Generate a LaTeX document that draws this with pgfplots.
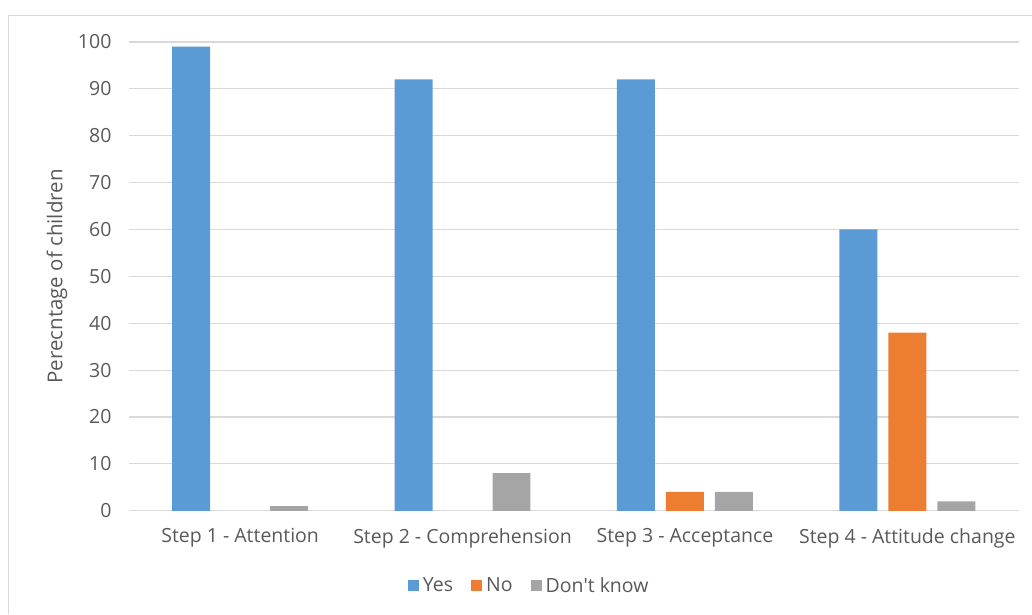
\documentclass[border=0pt]{standalone}
\usepackage{fontspec}
\setmainfont{Open Sans}
\usepackage{pgfplots}
\pgfplotsset{compat=1.18}
\definecolor{cyes}{HTML}{5B9BD5}
\definecolor{cno}{HTML}{ED7D31}
\definecolor{cdk}{HTML}{A5A5A5}
\definecolor{cgrid}{HTML}{D9D9D9}
\definecolor{ctext}{HTML}{595959}
\newcommand{\chartfont}{\fontsize{19.5}{23}\selectfont}
\begin{document}
\begin{tikzpicture}
\begin{axis}[
  scale only axis,
  width=890pt, height=469pt,
  ybar=11pt, bar width=38pt,
  xmin=-0.5, xmax=3.5,
  ymin=0, ymax=100,
  ytick={0,10,...,100},
  xtick={0,1,2,3},
  xticklabels={Step 1 - Attention, Step 2 - Comprehension, Step 3 - Acceptance, Step 4 - Attitude change},
  major tick length=0pt,
  axis line style={draw=none},
  ymajorgrids,
  grid style={cgrid, line width=1.2pt},
  tick label style={font=\chartfont, text=ctext},
  /pgf/number format/assume math mode=true,
  yticklabel style={xshift=-14pt},
  xticklabel style={yshift=-14pt},
  ylabel={Perecntage of children},
  ylabel style={font=\fontsize{20.5}{24}\selectfont, text=ctext, at={(axis description cs:-0.081,0.5)}, anchor=center},
  legend columns=-1,
  legend style={draw=none, font=\chartfont, text=ctext, at={(0.45,-0.16)}, anchor=center,
    /tikz/every odd column/.append style={column sep=2pt},
    /tikz/every even column/.append style={column sep=16pt}},
  legend image code/.code={\fill[#1] (0pt,-5.5pt) rectangle (11pt,5.5pt);},
]
\addplot[fill=cyes, draw=none] coordinates {(0,99) (1,92) (2,92) (3,60)};
\addplot[fill=cno, draw=none] coordinates {(2,4) (3,38)};
\addplot[fill=cdk, draw=none] coordinates {(0,1) (1,8) (2,4) (3,2)};
\legend{Yes, No, Don\textquotesingle t know}
\end{axis}
\draw[cgrid, line width=1pt] ([shift={(-120pt,-103pt)}]current axis.south west) -- ([shift={(-120pt,495pt)}]current axis.south west) -- ([shift={(903pt,495pt)}]current axis.south west);
\path[use as bounding box] ([shift={(-129pt,-103pt)}]current axis.south west) rectangle ([shift={(903pt,511pt)}]current axis.south west);
\end{tikzpicture}
\end{document}
